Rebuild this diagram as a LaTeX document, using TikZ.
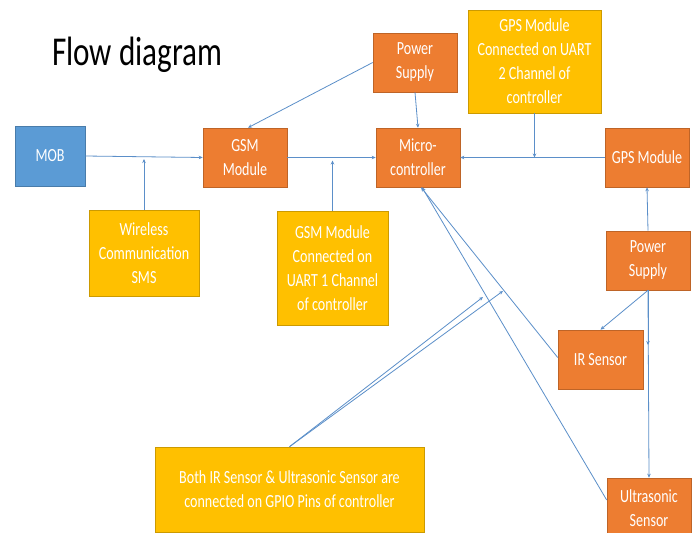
\documentclass[tikz,border=0pt]{standalone}
\usepackage{fontspec}
\setmainfont{Carlito}[FakeStretch=0.76]
\usetikzlibrary{arrows.meta}
\definecolor{boxorange}{HTML}{ED7D31}
\definecolor{boxyellow}{HTML}{FFC000}
\definecolor{boxblue}{HTML}{5B9BD5}
\definecolor{wire}{HTML}{5B8FC9}

\begin{document}
\begin{tikzpicture}[x=1pt,y=-1pt,
  blk/.style={draw=#1!80!black,fill=#1,line width=0.6pt,text=white,align=center,
    inner sep=2pt,font=\fontsize{18.5}{24}\selectfont},
  blk/.default=boxorange,
  wirearrow/.style={draw=wire,line width=0.8pt,-{Stealth[length=4pt,width=3.5pt]}}]
\clip (0,0) rectangle (697,533);
\fill[white] (0,0) rectangle (697,533);
\node[anchor=base west,font=\fontsize{41}{48}\selectfont,inner sep=0pt] (title) at (52,65) {Flow diagram};
% top row
\node[blk=boxblue,minimum width=70,minimum height=60] (mob) at (50,156) {MOB};
\node[blk,minimum width=84,minimum height=59] (gsm) at (245,157.5) {GSM\\Module};
\node[blk,minimum width=84,minimum height=59] (power1) at (415,62.5) {Power\\Supply};
\node[blk=boxyellow,minimum width=133,minimum height=103] (gpsnote) at (534.5,61.5) {GPS Module\\Connected on UART\\2 Channel of\\controller};
\node[blk,minimum width=84,minimum height=59] (micro) at (418,157.5) {Micro-\\controller};
\node[blk,minimum width=84,minimum height=59] (gps) at (647,157.5) {GPS Module};
% notes under the top row
\node[blk=boxyellow,minimum width=110,minimum height=86] (sms) at (144,253) {Wireless\\Communication\\SMS};
\node[blk=boxyellow,minimum width=111,minimum height=114] (gsmnote) at (332.5,268) {GSM Module\\Connected on\\UART 1 Channel\\of controller};
\node[blk=boxyellow,minimum width=269,minimum height=85] (gpionote) at (289.5,489.5) {Both IR Sensor \& Ultrasonic Sensor are\\connected on GPIO Pins of controller};
% sensor side
\node[blk,minimum width=84,minimum height=59] (power2) at (648,260.5) {Power\\Supply};
\node[blk,minimum width=85,minimum height=59] (ir) at (600.5,359.5) {IR Sensor};
\node[blk,minimum width=84,minimum height=60] (ultra) at (649,508) {Ultrasonic\\Sensor};

\coordinate (smsjoin) at (sms.north |- mob.east);
\coordinate (gsmjoin) at (gsmnote.north |- gsm.east);
\coordinate (gpsjoin) at (gpsnote.south |- gps.west);
\coordinate (powertap) at (648,345);
\coordinate (irtip) at (483,297);
\coordinate (ultratip) at (503,291);

\draw[wirearrow] (mob.east) -- (gsm.west);
\draw[wirearrow] (sms.north) -- ([yshift=-3]smsjoin);
\draw[wirearrow] (power1.west) -- ([xshift=3]gsm.north);
\draw[wirearrow] (power1.south) -- (micro.north);
\draw[wirearrow] (gsm.east) -- (micro.west);
\draw[wirearrow] (gsmnote.north) -- ([yshift=-3]gsmjoin);
\draw[wirearrow] (gps.west) -- (micro.east);
\draw[wirearrow] (gpsnote.south) -- (gpsjoin);
\draw[wirearrow] (power2.north) -- (gps.south);
\draw[wirearrow] (power2.south) -- (ir.north);
\draw[wirearrow] (power2.south) -- (powertap);
\draw[wirearrow] (power2.south) -- (ultra.north);
\draw[wirearrow] ([yshift=2]ir.west) -- ([xshift=3]micro.south);
\draw[wirearrow] ([yshift=8]ultra.west) -- ([xshift=4]micro.south);
\foreach \tip in {irtip,ultratip}
  \draw[wirearrow] (gpionote.north) -- (\tip);
\end{tikzpicture}
\end{document}
